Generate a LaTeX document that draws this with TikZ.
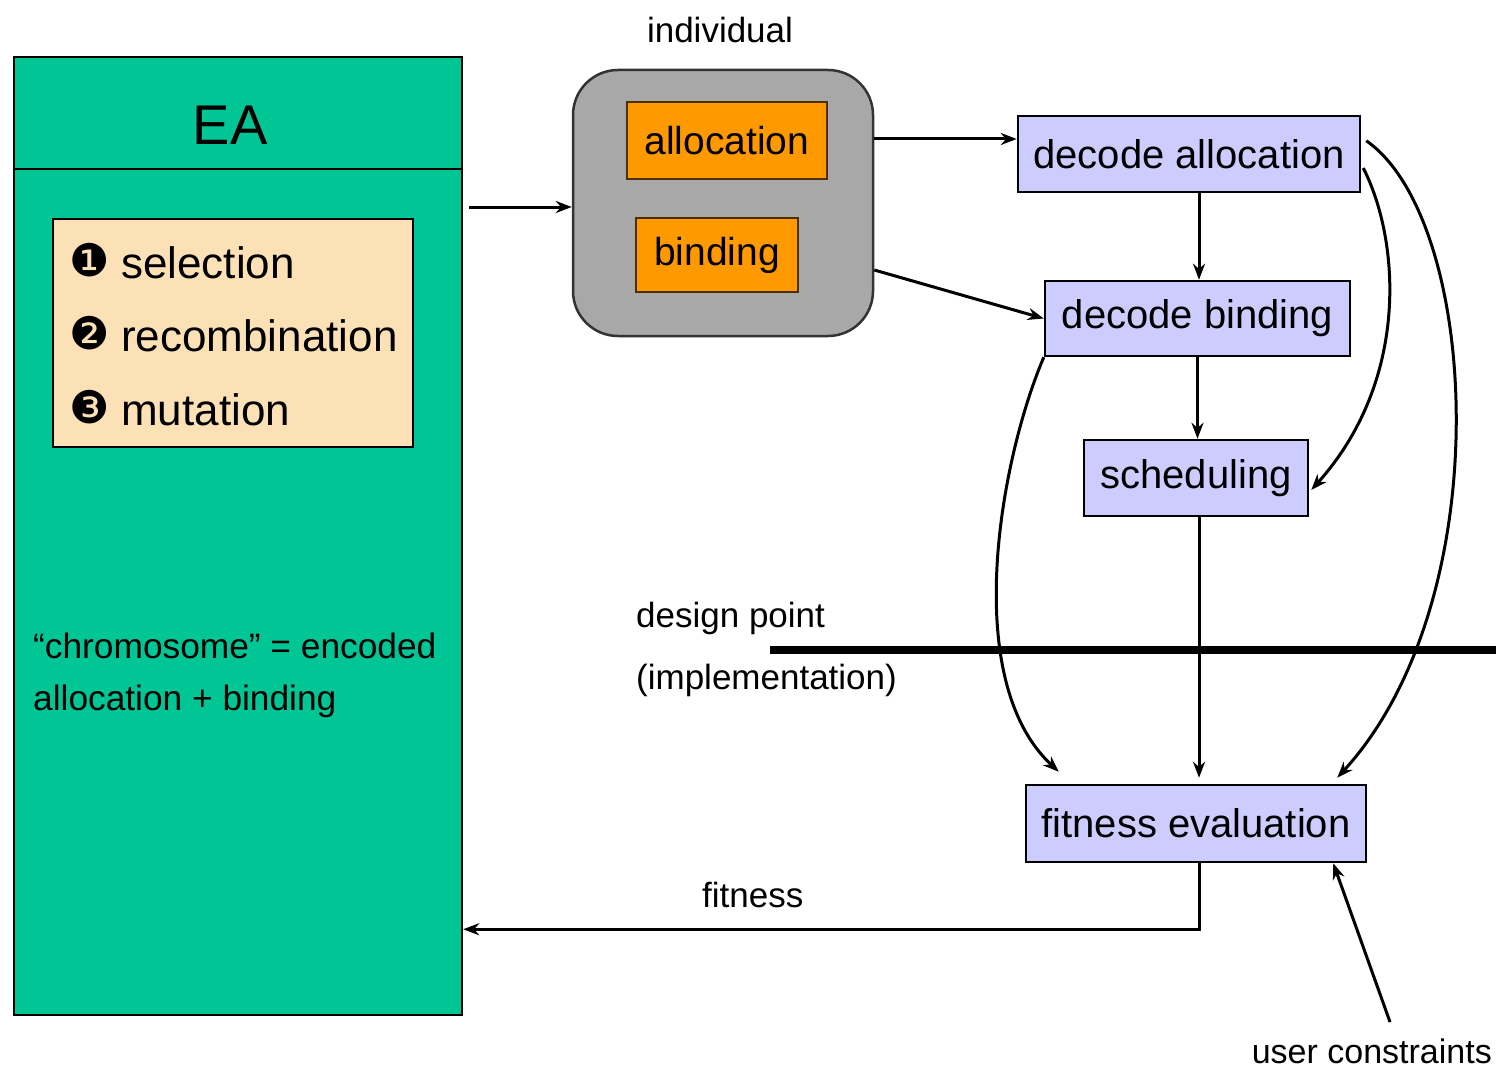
\documentclass[tikz,border=0pt]{standalone}
\usepackage{fontspec}
\setmainfont{Liberation Sans}
\newfontfamily\dejavu{DejaVu Sans}
\usetikzlibrary{arrows.meta,calc}
\definecolor{eagreen}{RGB}{0,198,150}
\definecolor{beige}{RGB}{252,224,182}
\definecolor{indgray}{RGB}{168,168,168}
\definecolor{orng}{RGB}{255,153,0}
\definecolor{lav}{RGB}{204,204,255}
\newcommand{\fsz}[1]{\fontsize{#1}{#1}\selectfont}
\tikzset{
  boxbase/.style={draw=black, line width=2.5pt, inner sep=0pt, align=center},
  lavbox/.style={boxbase, fill=lav, font=\fsz{40}},
  orgbox/.style={boxbase, fill=orng, draw=black!70!orng, font=\fsz{39}},
  arr/.style={line width=3pt, -{Stealth[length=16pt,width=12pt]}},
  lbl/.style={inner sep=0pt, font=\fsz{35}},
  digit/.style={inner sep=0pt, anchor=base west, font=\dejavu\fsz{45}},
}
\begin{document}
\begin{tikzpicture}[x=1pt,y=-1pt]
\useasboundingbox (0,0) rectangle (1496,1070);
% EA box
\node[boxbase, fill=eagreen, minimum width=448pt, minimum height=958pt] (ea) at (238,536) {};
\draw[line width=2.5pt] ($(ea.north west)+(0,113)$) coordinate (d1) -- (d1 -| ea.east);
\node[inner sep=0pt, font=\fsz{56}] (eat) at (230,125) {EA};
\node[boxbase, fill=beige, minimum width=360pt, minimum height=228pt] (ops) at (233,333) {};
\node[digit] (n1) at (69,276) {❶};
\node[inner sep=0pt, anchor=base west, font=\fsz{44}] (t1) at (121,278) {selection};
\node[digit] (n2) at (69,349) {❷};
\node[inner sep=0pt, anchor=base west, font=\fsz{44}] (t2) at (121,351) {recombination};
\node[digit] (n3) at (69,423) {❸};
\node[inner sep=0pt, anchor=base west, font=\fsz{44}] (t3) at (121,425) {mutation};
\node[lbl, anchor=base west, align=left, font=\fsz{35.3}] (chr) at (33,658) {“chromosome” = encoded};
\node[lbl, anchor=base west, align=left, font=\fsz{35.3}] (chr2) at (33,710) {allocation + binding};
% individual
\node[lbl, font=\fsz{35}] (indl) at (720,30) {individual};
\node[boxbase, fill=indgray, draw=black!80, rounded corners=45pt, minimum width=300pt, minimum height=266pt] (ind) at (723,203) {};
\node[orgbox, minimum width=200pt, minimum height=77pt] (alloc) at (727,140.5) {allocation};
\node[orgbox, minimum width=162pt, minimum height=74pt] (bind) at (717,255) {binding};
% right column
\node[lavbox, minimum width=342pt, minimum height=76pt] (decA) at (1189,154) {decode allocation};
\node[lavbox, minimum width=305pt, minimum height=75pt] (decB) at (1197.5,318.5) {decode binding};
\node[lavbox, minimum width=224pt, minimum height=76pt] (sched) at (1196,478) {scheduling};
\node[lavbox, minimum width=340pt, minimum height=77pt] (fit) at (1196,823.5) {fitness evaluation};
% labels
\node[lbl, anchor=base west] (dp) at (636,627) {design point};
\node[lbl, anchor=base west] (impl) at (636,689) {(implementation)};
\node[lbl, anchor=base west] (fitl) at (702,907) {fitness};
\node[lbl, anchor=base east, font=\fsz{34}] (uc) at (1492,1063) {user constraints};
\coordinate (dpl1) at (770,650);
\coordinate (dpl2) at (1496,650);
\draw[line width=8pt] (dpl1) -- (dpl2);
% connectors
\draw[arr] ($(ea.east|-ind.west)+(6,4)$) -- ($(ind.west)+(0,4)$);
\draw[arr] ($(ind.east)+(0,-64)$) coordinate (s1) -- (decA.west |- s1);
\draw[arr] ($(ind.east)+(0,67)$) -- (decB.west);
\draw[arr] ($(decA.south)+(10,0)$) -- ($(decB.north)+(1.5,0)$);
\draw[arr] ($(decB.south)+(0,0)$) -- ($(sched.north)+(1.5,0)$);
\draw[arr] ($(sched.south)+(3,0)$) -- ($(fit.north)+(3,-6)$);
\draw[arr] (decB.south west) .. controls (1000,460) and (960,680) .. ($(fit.north west)+(34,-12)$);
\draw[arr] ($(decA.east)+(2,14)$) .. controls (1400,240) and (1410,380) .. ($(sched.east)+(2,12)$);
\draw[arr] ($(decA.north east)+(5,26)$) .. controls (1480,220) and (1500,600) .. ($(fit.north east)+(-30,-6)$);
\draw[arr] ($(fit.south)+(3,0)$) |- ($(ea.south east)+(0,-87)$);
\coordinate (ucs) at (1390,1022);
\draw[arr] (ucs) -- ($(fit.south east)+(-34,0)$);
\end{tikzpicture}
\end{document}
